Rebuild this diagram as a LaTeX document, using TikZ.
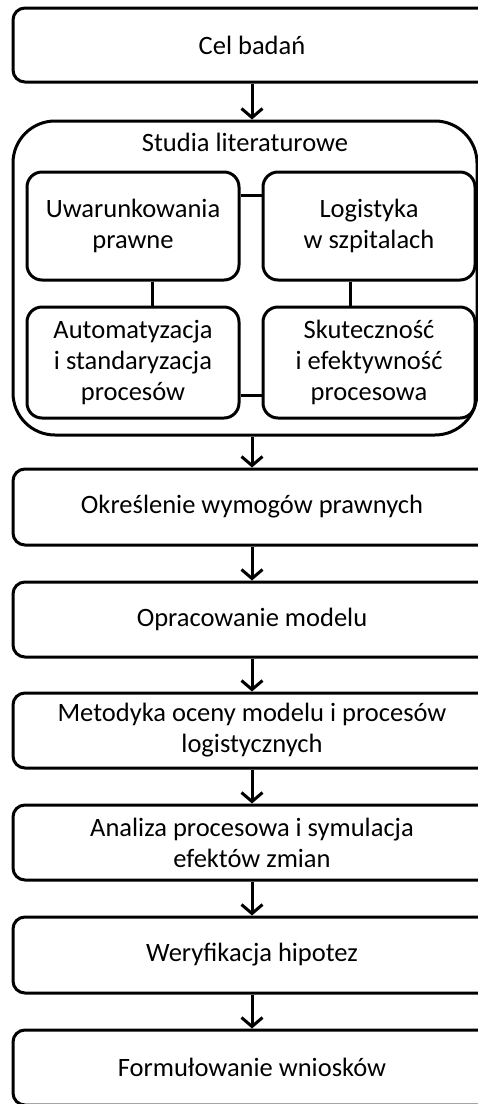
\documentclass[tikz,border=0pt]{standalone}
\usepackage{fontspec}
\setmainfont{Carlito}
\usetikzlibrary{arrows.meta}
\begin{document}
\begin{tikzpicture}[x=1pt,y=-1pt,
  every node/.style={inner sep=0pt,align=center,
    font=\fontsize{26.5}{31}\selectfont},
  mainbox/.style={draw,line width=3pt,rounded corners=12pt,
    minimum width=478pt,minimum height=75pt},
  innerbox/.style={draw,line width=3pt,rounded corners=15pt,
    minimum width=212pt},
  groupbox/.style={draw,line width=3pt,rounded corners=42pt,
    minimum width=464pt,minimum height=314pt},
  link/.style={line width=3pt},
  flow/.style={line width=3pt,
    -{Straight Barb[length=9pt,width=21pt,line width=3pt]}}]
\useasboundingbox (0,0) rectangle (478,1104);
\clip (0,0) rectangle (478,1104);

% main sequence
\node[mainbox,minimum height=74pt] (cel) at (252,45) {Cel badań};
\node[groupbox] (studia) at (245,278) {};
\node (studiatxt) at (245,142) {Studia literaturowe};
\node[mainbox,minimum height=76pt] (okr) at (252,507) {Określenie wymogów prawnych};
\node[mainbox] (opr) at (252,619.5) {Opracowanie modelu};
\node[mainbox] (met) at (252,730.5) {Metodyka oceny modelu i procesów\\logistycznych};
\node[mainbox] (ana) at (252,842.5) {Analiza procesowa i symulacja\\efektów zmian};
\node[mainbox,minimum height=76pt] (wer) at (252,955) {Weryfikacja hipotez};
\node[mainbox] (for) at (252,1067.5) {Formułowanie wniosków};

% literature topics
\node[innerbox,minimum height=108pt] (uw) at (133,226) {Uwarunkowania\\prawne};
\node[innerbox,minimum height=108pt] (lg) at (369,226) {Logistyka\\w szpitalach};
\node[innerbox,minimum height=111pt] (au) at (133,362.5) {Automatyzacja\\i standaryzacja\\procesów};
\node[innerbox,minimum height=111pt] (sk) at (369,362.5) {Skuteczność\\i efektywność\\procesowa};

% links between topics
\draw[link] (uw.east |- {0,195}) -- (lg.west |- {0,195});
\draw[link] (au.east |- {0,395}) -- (sk.west |- {0,395});
\draw[link] (uw.south -| {152,0}) -- (au.north -| {152,0});
\draw[link] (lg.south -| {350,0}) -- (sk.north -| {350,0});

% flow arrows
\draw[flow] (cel.south) -- (cel.south |- studia.north);
\draw[flow] (studia.south -| okr.north) -- (okr.north);
\draw[flow] (okr.south) -- (opr.north);
\draw[flow] (opr.south) -- (met.north);
\draw[flow] (met.south) -- (ana.north);
\draw[flow] (ana.south) -- (wer.north);
\draw[flow] (wer.south) -- (for.north);
\end{tikzpicture}
\end{document}
